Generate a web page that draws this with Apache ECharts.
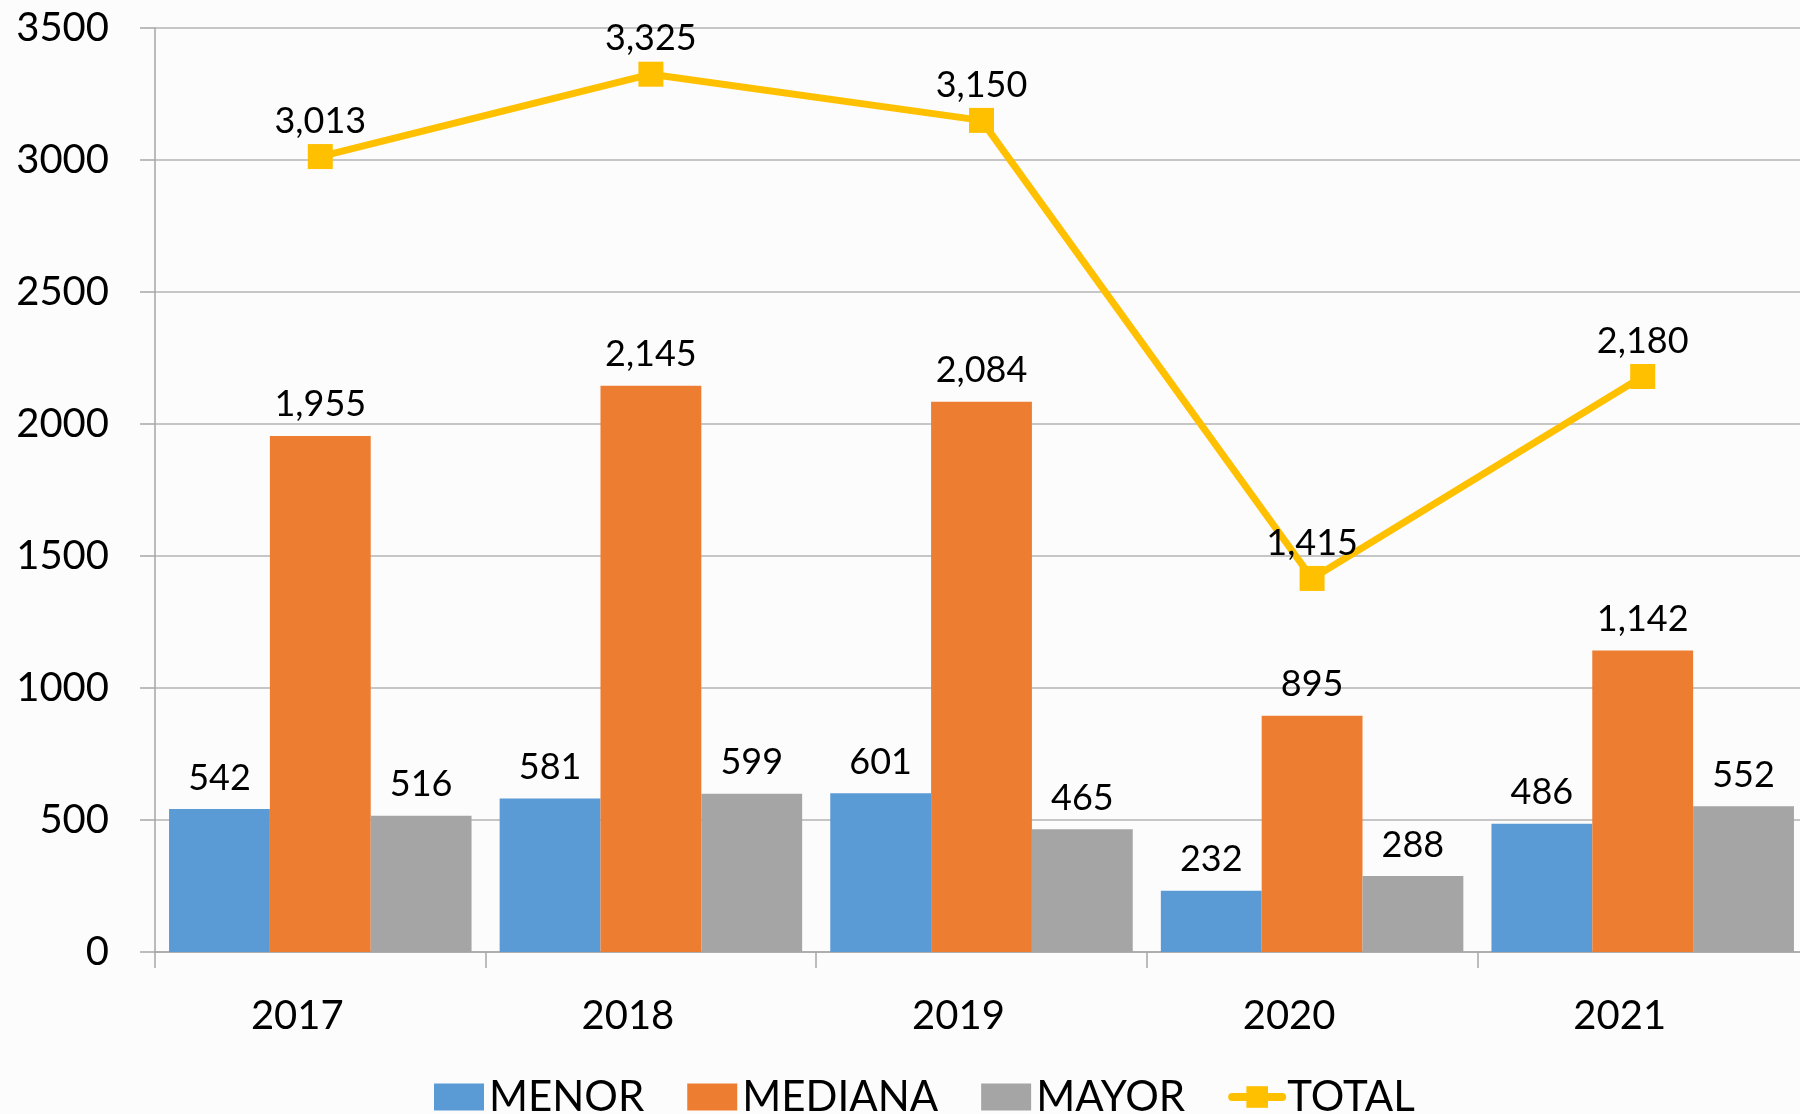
<!DOCTYPE html>
<html>
<head>
<meta charset="utf-8">
<script src="https://cdn.jsdelivr.net/npm/echarts@6/dist/echarts.min.js"></script>
<style>
html,body{margin:0;padding:0;background:#fcfcfc;}
#c{width:1800px;height:1114px;}
</style>
</head>
<body>
<div id="c"></div>
<script>
const categories = ['2017', '2018', '2019', '2020', '2021'];
const menor = [542, 581, 601, 232, 486];
const mediana = [1955, 2145, 2084, 895, 1142];
const mayor = [516, 599, 465, 288, 552];
const total = [3013, 3325, 3150, 1415, 2180];
const yTicks = [0, 500, 1000, 1500, 2000, 2500, 3000, 3500];

const FONT = 'Lato';
const fmt = v => Number(v).toLocaleString('en-US');
const labelStyle = {
  show: true, position: 'top', distance: 13,
  fontFamily: FONT, fontSize: 36, color: '#000',
  formatter: p => fmt(p.value)
};
const chart = echarts.init(document.getElementById('c'));
chart.setOption({
  backgroundColor: '#fcfcfc',
  animation: false,
  grid: { left: 155, width: 1653, top: 28, bottom: 162, containLabel: false, outerBoundsMode: 'none' },
  legend: {
    left: 434, top: 1076, padding: 0, itemGap: 43,
    itemWidth: 50, itemHeight: 27,
    textStyle: { fontFamily: FONT, fontSize: 42, color: '#000' },
    data: [
      { name: 'MENOR', icon: 'rect' },
      { name: 'MEDIANA', icon: 'rect' },
      { name: 'MAYOR', icon: 'rect' },
      { name: 'TOTAL', lineStyle: { width: 8, cap: 'round' } }
    ]
  },
  xAxis: {
    type: 'category', data: categories,
    axisLine: { lineStyle: { color: '#a6a6a6', width: 1.5 } },
    axisTick: { show: true, length: 16, lineStyle: { color: '#a6a6a6', width: 1.5 } },
    axisLabel: { fontFamily: FONT, fontSize: 40, color: '#000', margin: 44, padding: [0, 46, 0, 0] }
  },
  yAxis: {
    type: 'value', min: yTicks[0], max: yTicks[yTicks.length - 1], interval: 500,
    axisLine: { show: true, lineStyle: { color: '#a6a6a6', width: 1.5 } },
    axisTick: { show: true, length: 15, lineStyle: { color: '#a6a6a6', width: 1.5 } },
    splitLine: { lineStyle: { color: '#b4b4b4', width: 1.5 } },
    axisLabel: { fontFamily: FONT, fontSize: 40, color: '#000', margin: 46, formatter: v => String(v) }
  },
  series: [
    { name: 'MENOR', type: 'bar', data: menor, barGap: '0%', barCategoryGap: '8.5%',
      itemStyle: { color: '#5B9BD5' }, label: labelStyle },
    { name: 'MEDIANA', type: 'bar', data: mediana, barGap: '0%', barCategoryGap: '8.5%',
      itemStyle: { color: '#ED7D31' }, label: labelStyle },
    { name: 'MAYOR', type: 'bar', data: mayor, barGap: '0%', barCategoryGap: '8.5%',
      itemStyle: { color: '#A5A5A5' }, label: labelStyle },
    { name: 'TOTAL', type: 'line', data: total,
      symbol: 'rect', symbolSize: 25,
      lineStyle: { color: '#FFC000', width: 7 },
      itemStyle: { color: '#FFC000' },
      label: Object.assign({}, labelStyle, { distance: 5 }) }
  ]
});
</script>
</body>
</html>
